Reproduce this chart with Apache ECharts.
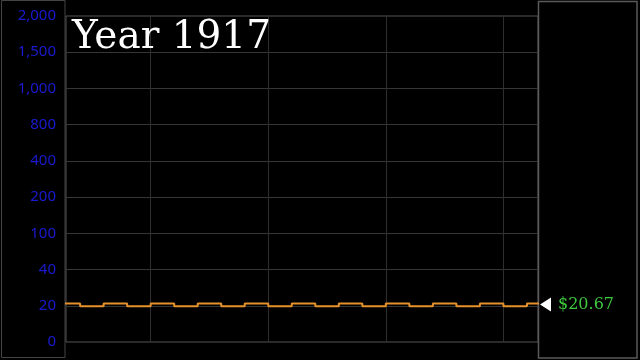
<!DOCTYPE html>
<html>
<head>
<meta charset="utf-8">
<script src="https://cdn.jsdelivr.net/npm/echarts@6/dist/echarts.min.js"></script>
<style>
html,body{margin:0;padding:0;background:#000;}
#c{width:640px;height:360px;}
</style>
</head>
<body>
<div id="c"></div>
<script>
// ---- data ----
const yearLabel = 'Year 1917';
const yTickValues = [0, 20, 40, 100, 200, 400, 800, 1000, 1500, 2000];
const yTickLabels = ['0', '20', '40', '100', '200', '400', '800', '1,000', '1,500', '2,000'];
const stepX = [1, 2, 3, 4, 5, 6, 7, 8, 9, 10, 11, 12, 13, 14, 15, 16, 17, 18, 19, 20, 21, 22];
const prices = [21.3, 19.8, 21.3, 19.8, 21.3, 19.8, 21.3, 19.8, 21.3, 19.8, 21.3,
                19.8, 21.3, 19.8, 21.3, 19.8, 21.3, 19.8, 21.3, 19.8, 21.3, 21.3];
const lastPrice = 20.67;
const lastPriceLabel = '$20.67';
const xRange = [1.4, 21.47];

// piecewise scale: each tick label step is one unit on the axis
function toAxis(v) {
  for (let i = 0; i < yTickValues.length - 1; i++) {
    if (v <= yTickValues[i + 1]) {
      return i + (v - yTickValues[i]) / (yTickValues[i + 1] - yTickValues[i]);
    }
  }
  return yTickValues.length - 1;
}

const lineData = stepX.map((x, i) => [x, toAxis(prices[i])]);

const chart = echarts.init(document.getElementById('c'), null, {renderer: 'canvas'});
chart.setOption({
  backgroundColor: '#000',
  animation: false,
  title: {
    text: yearLabel,
    left: 67,
    top: 13,
    textStyle: {color: '#fff', fontFamily: 'DejaVu Serif', fontSize: 39, fontWeight: 'normal'}
  },
  graphic: [
    {type: 'rect', shape: {x: 1.5, y: 0.5, width: 63.5, height: 357}, style: {fill: 'none', stroke: '#444', lineWidth: 1}, z: 0},
    {type: 'rect', shape: {x: 538.5, y: 1.5, width: 98.5, height: 356.5}, style: {fill: 'none', stroke: '#5a5a5a', lineWidth: 1.5}, z: 0}
  ],
  grid: {
    left: 66, top: 16, right: 102, bottom: 18,
    show: true, borderColor: '#555', borderWidth: 1,
    containLabel: false
  },
  xAxis: {
    type: 'value',
    min: xRange[0], max: xRange[1],
    minInterval: 5, maxInterval: 5,
    axisLabel: {show: false},
    axisTick: {show: false},
    axisLine: {show: false},
    splitLine: {show: true, showMinLine: false, showMaxLine: false, lineStyle: {color: '#2e2e2e', width: 1}}
  },
  yAxis: {
    type: 'value',
    min: 0, max: yTickValues.length - 1, interval: 1,
    axisLabel: {
      color: '#1a1ad2', fontFamily: 'Noto Sans', fontSize: 15, margin: 10,
      formatter: v => yTickLabels[Math.round(v)]
    },
    axisTick: {show: false},
    axisLine: {show: false},
    splitLine: {show: true, showMinLine: false, showMaxLine: false, lineStyle: {color: '#363636', width: 1}}
  },
  series: [{
    type: 'line',
    step: 'end',
    data: lineData,
    symbol: 'none',
    clip: true,
    lineStyle: {color: '#e6922c', width: 2},
    markPoint: {
      symbol: 'triangle',
      symbolSize: [14, 11],
      symbolRotate: 90,
      symbolOffset: [7.5, 0],
      itemStyle: {color: '#fff'},
      label: {
        show: true, position: 'right', distance: 7,
        color: '#3ec83e', fontFamily: 'DejaVu Serif', fontSize: 16,
        formatter: lastPriceLabel
      },
      data: [{coord: [xRange[1], toAxis(lastPrice)]}]
    }
  }]
});
</script>
</body>
</html>
